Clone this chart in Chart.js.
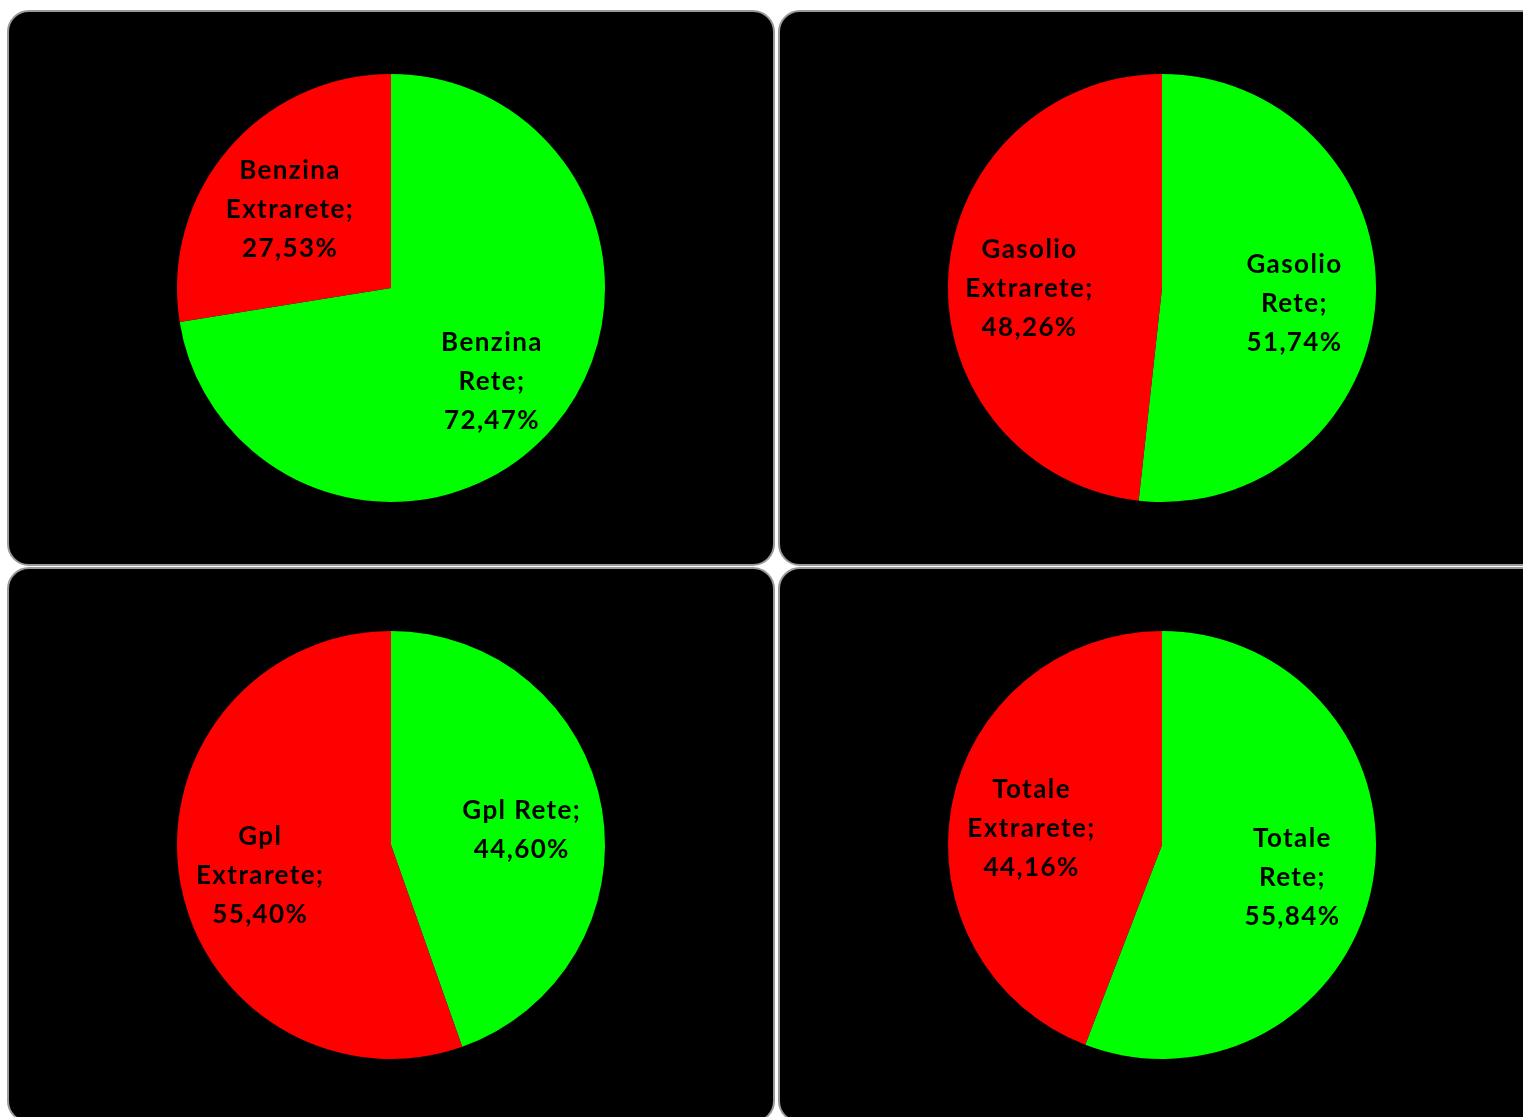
<!DOCTYPE html>
<html>
<head>
<meta charset="utf-8">
<script src="https://cdn.jsdelivr.net/npm/chart.js@4"></script>
<style>
  html, body { margin: 0; padding: 0; background: #fff; width: 1523px; height: 1117px; overflow: hidden; }
  .panel {
    position: absolute;
    width: 764px;
    height: 552px;
    background: #000;
    border: 2px solid #9a9a9a;
    border-radius: 22px;
    overflow: hidden;
  }
  .panel canvas { display: block; }
</style>
</head>
<body>
<div class="panel" style="left:7px; top:10px;"><canvas id="pie-benzina"></canvas></div>
<div class="panel" style="left:778px; top:10px;"><canvas id="pie-gasolio"></canvas></div>
<div class="panel" style="left:7px; top:567px;"><canvas id="pie-gpl"></canvas></div>
<div class="panel" style="left:778px; top:567px;"><canvas id="pie-totale"></canvas></div>

<script>
    // Data
    var groups = ["Benzina", "Gasolio", "Gpl", "Totale"];
    var seriesNames = ["Rete", "Extrarete"];
    var reteValues = [72.47, 51.74, 44.60, 55.84];
    var extraValues = [27.53, 48.26, 55.40, 44.16];
    var canvasIds = ["pie-benzina", "pie-gasolio", "pie-gpl", "pie-totale"];

    var labelFont = "bold 26px Lato";

    // Labels inside the slices: "Name Serie;" + value
    var sliceLabels = {
        id: "sliceLabels",
        afterDatasetsDraw: function (chart) {
            var ctx = chart.ctx;
            var meta = chart.getDatasetMeta(0);
            var group = chart.options.plugins.sliceLabels.group;
            ctx.save();
            ctx.font = labelFont;
            ctx.letterSpacing = "1.4px";
            ctx.fillStyle = "#000";
            ctx.textAlign = "center";
            ctx.textBaseline = "middle";
            var maxW = ctx.measureText("Extrarete;").width * 1.05;
            meta.data.forEach(function (arc, i) {
                var p = arc.getProps(["x", "y", "startAngle", "endAngle", "outerRadius"], true);
                var mid = (p.startAngle + p.endAngle) / 2;
                var r = p.outerRadius * 0.62;
                var x = p.x + Math.cos(mid) * r;
                var y = p.y + Math.sin(mid) * r + 8;
                var head = group + " " + chart.data.labels[i] + ";";
                var lines = ctx.measureText(head).width > maxW
                    ? [group, chart.data.labels[i] + ";"]
                    : [head];
                var v = chart.data.datasets[0].data[i];
                lines.push(v.toFixed(2).replace(".", ",") + "%");
                var lh = 39;
                var y0 = y - (lines.length - 1) * lh / 2;
                lines.forEach(function (t, k) {
                    ctx.fillText(t, x, y0 + k * lh);
                });
            });
            ctx.restore();
        }
    };

    groups.forEach(function (g, i) {
        var cv = document.getElementById(canvasIds[i]);
        cv.width = 764;
        cv.height = 552;
        new Chart(cv.getContext("2d"), {
            type: "pie",
            data: {
                labels: seriesNames,
                datasets: [{
                    data: [reteValues[i], extraValues[i]],
                    backgroundColor: ["#00ff00", "#ff0000"],
                    borderWidth: 0
                }]
            },
            options: {
                responsive: false,
                animation: false,
                layout: { padding: { top: 62, bottom: 62, left: 0, right: 0 } },
                plugins: {
                    legend: { display: false },
                    tooltip: { enabled: false },
                    sliceLabels: { group: g }
                }
            },
            plugins: [sliceLabels]
        });
    });
</script>
</body>
</html>
